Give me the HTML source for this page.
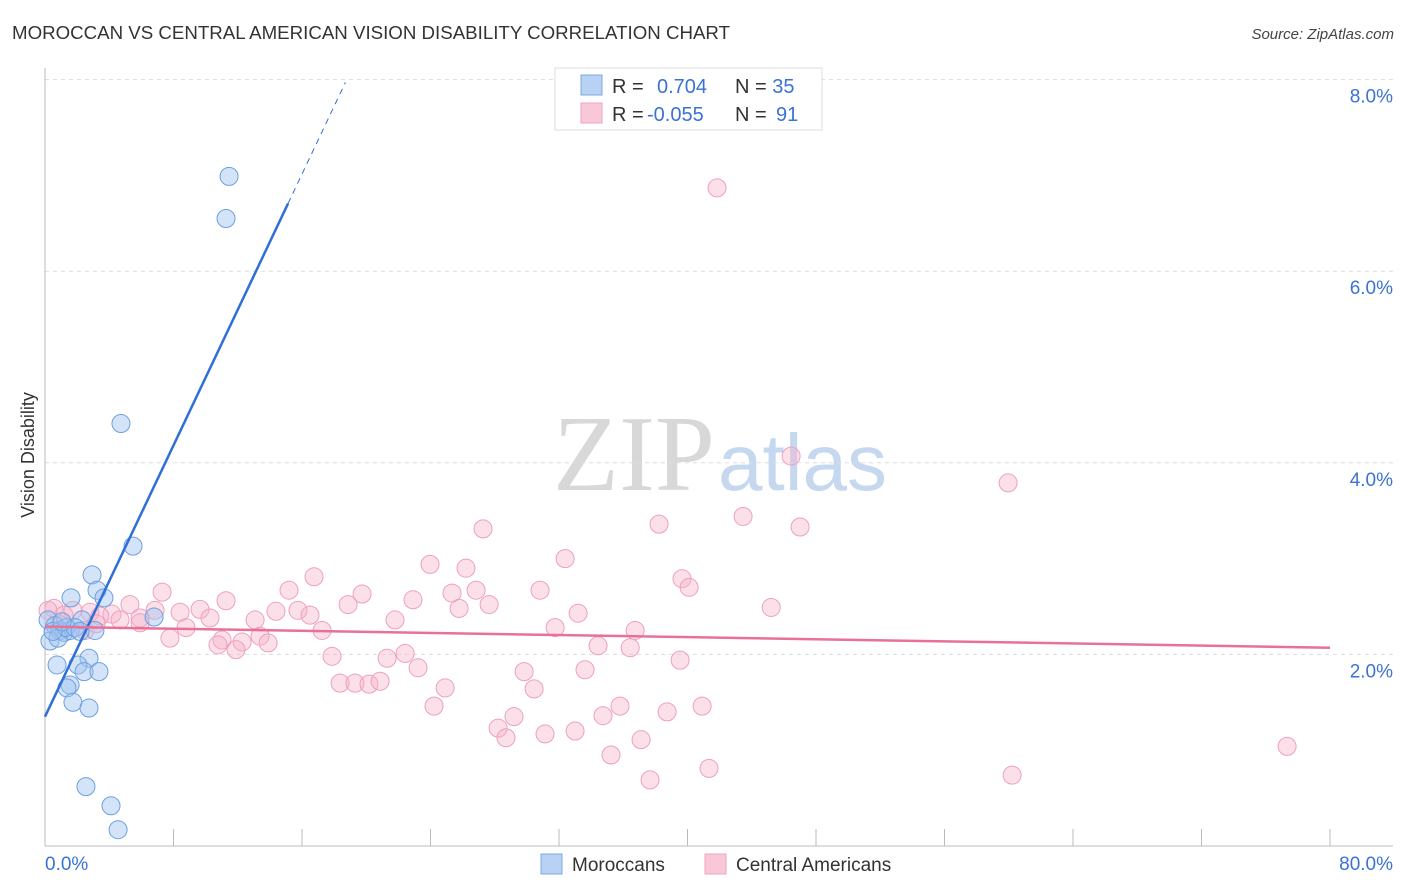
<!DOCTYPE html>
<html><head><meta charset="utf-8"><style>
body{margin:0;background:#fff;font-family:"Liberation Sans",sans-serif;}
svg{display:block}
</style></head><body>
<svg id="chart" width="1406" height="892" xmlns="http://www.w3.org/2000/svg">
<text x="12" y="39" font-size="18" fill="#333" textLength="718" lengthAdjust="spacingAndGlyphs">MOROCCAN VS CENTRAL AMERICAN VISION DISABILITY CORRELATION CHART</text>
<text x="1394" y="39" font-size="15" fill="#444" font-style="italic" text-anchor="end">Source: ZipAtlas.com</text>
<text x="553" y="490" font-size="108" font-family="Liberation Serif" fill="#d8d8d8">ZIP<tspan fill="#c5d8f0" font-family="Liberation Sans" font-size="80" x="718">atlas</tspan></text>
<text transform="translate(34,455) rotate(-90)" font-size="18" fill="#333" text-anchor="middle">Vision Disability</text>
<g id="grid"></g><g id="axes"></g><g id="pts"></g><g id="lines"></g>
<g>
<rect x="555" y="68" width="267" height="62" fill="#fff" stroke="#ddd"/>
<rect x="581" y="75" width="21" height="20" fill="#b8d2f4" stroke="#7aa8e6"/>
<rect x="581" y="103" width="21" height="20" fill="#f9c8d8" stroke="#eea3bc"/>
<text x="612" y="93" font-size="20" fill="#333">R = <tspan fill="#3a72d6" x="657">0.704</tspan><tspan x="735" fill="#333">N = </tspan><tspan fill="#3a72d6">35</tspan></text>
<text x="612" y="121" font-size="20" fill="#333">R = <tspan fill="#3a72d6" x="647">-0.055</tspan><tspan x="735" fill="#333">N = </tspan><tspan fill="#3a72d6" x="776">91</tspan></text>
</g>
<g>
<rect x="541" y="854" width="21" height="20" fill="#b8d2f4" stroke="#7aa8e6"/>
<text x="572" y="871" font-size="19" fill="#333">Moroccans</text>
<rect x="705" y="854" width="21" height="20" fill="#f9c8d8" stroke="#eea3bc"/>
<text x="736" y="871" font-size="19" fill="#333">Central Americans</text>
</g>
</svg>
<script>
const yTicks=[2,4,6,8];
const yTickLabels=["2.0%","4.0%","6.0%","8.0%"];
const xTickCount=[0,8,16,24,32,40,48,56,64,72,80];
const blueX=[11.46,11.27,4.73,5.48,2.93,3.24,1.62,3.67,6.79,2.30,3.11,0.19,0.62,0.93,1.18,1.56,0.31,0.81,1.31,2.74,0.75,2.05,2.43,3.36,1.56,1.37,1.74,2.74,2.55,4.11,4.55,0.50,1.87,1.06,2.18];
const blueY=[6.99,6.55,4.41,3.13,2.83,2.67,2.59,2.59,2.39,2.36,2.25,2.36,2.30,2.25,2.23,2.25,2.14,2.17,2.28,1.96,1.89,1.89,1.82,1.82,1.68,1.65,1.50,1.44,0.62,0.42,0.17,2.24,2.28,2.34,2.24];
const pinkPx=[[717,188],[791,456],[1008,483],[743,516],[659,524],[800,527],[483,529],[565,559],[430,564],[466,568],[314,577],[682,579],[689,587],[289,590],[362,594],[162,592],[540,590],[476,590],[452,593],[413,600],[226,601],[130,605],[489,605],[578,613],[348,605],[459,608],[771,607],[276,611],[298,610],[310,615],[200,609],[155,610],[180,612],[395,620],[112,614],[140,618],[210,618],[54,608],[64,615],[73,610],[90,612],[100,616],[120,620],[255,620],[322,630],[555,628],[635,630],[186,628],[60,625],[85,630],[170,638],[260,636],[222,640],[242,642],[218,645],[268,643],[236,650],[630,648],[598,646],[405,653],[680,660],[332,656],[387,658],[418,668],[524,672],[585,670],[340,683],[355,683],[369,684],[380,681],[445,688],[534,689],[434,706],[702,706],[620,706],[603,716],[667,712],[514,717],[498,728],[506,738],[545,734],[575,731],[641,740],[611,755],[709,768],[650,780],[1287,746],[1012,775],[48,610],[96,624],[140,623]];
const pinkX=pinkPx.map(p=>+((p[0]-45)/16.06).toFixed(2));
const pinkY=pinkPx.map(p=>+((846-p[1])/95.8).toFixed(2));
const blueTrend=[1.35,0.354];
const pinkTrend=[2.29,-0.00275];

const X0=45,X1=1330,Y0=846,PY=95.8;
function sx(v){return X0+v*(X1-X0)/80;}
function sy(v){return Y0-v*PY;}
const NS="http://www.w3.org/2000/svg";
function mk(tag,attrs,parent){const e=document.createElementNS(NS,tag);for(const k in attrs)e.setAttribute(k,attrs[k]);parent.appendChild(e);return e;}
const grid=document.getElementById('grid'),axes=document.getElementById('axes'),pts=document.getElementById('pts'),lines=document.getElementById('lines');
yTicks.forEach((t,i)=>{
 const l=mk('line',{x1:45,x2:1393,y1:sy(t),y2:sy(t),stroke:'#ddd','stroke-dasharray':'4,4'},grid);
 
 
 const tx=mk('text',{x:1393,y:sy(t)+23,'font-size':19,fill:'#3a72d6','text-anchor':'end'},grid);
 tx.textContent=yTickLabels[i];
 
 
});
const ya=mk('line',{x1:45,x2:45,y1:68,y2:846,stroke:'#bbb'},axes);


const xa=mk('line',{x1:45,x2:1393,y1:846,y2:846,stroke:'#bbb'},axes);


xTickCount.forEach(t=>{
 const l=mk('line',{x1:sx(t),x2:sx(t),y1:829,y2:846,stroke:'#bbb'},axes);
 
 
});
const xl0=mk('text',{x:45,y:870,'font-size':19,fill:'#3a72d6'},axes);xl0.textContent='0.0%';


const xl1=mk('text',{x:1393,y:870,'font-size':19,fill:'#3a72d6','text-anchor':'end'},axes);xl1.textContent='80.0%';


pinkX.forEach((x,i)=>{
 const c=mk('circle',{cx:sx(x),cy:sy(pinkY[i]),r:9,fill:'rgba(246,178,202,0.4)',stroke:'#eea0bb','stroke-width':1},pts);
 
 
});
blueX.forEach((x,i)=>{
 const c=mk('circle',{cx:sx(x),cy:sy(blueY[i]),r:9,fill:'rgba(160,196,240,0.45)',stroke:'#6e9fe0','stroke-width':1},pts);
 
 
});
const bl=mk('line',{x1:sx(0),y1:sy(blueTrend[0]),x2:sx(15.13),y2:sy(blueTrend[0]+blueTrend[1]*15.13),stroke:'#2f6fd6','stroke-width':2.5},lines);


const bd=mk('line',{x1:sx(15.13),y1:sy(blueTrend[0]+blueTrend[1]*15.13),x2:sx(18.7),y2:sy(blueTrend[0]+blueTrend[1]*18.7),stroke:'#2f6fd6','stroke-width':1,'stroke-dasharray':'6,5'},lines);


const pl=mk('line',{x1:sx(0),y1:sy(pinkTrend[0]),x2:sx(80),y2:sy(pinkTrend[0]+pinkTrend[1]*80),stroke:'#e8709a','stroke-width':2.5},lines);


</script>
</body></html>
